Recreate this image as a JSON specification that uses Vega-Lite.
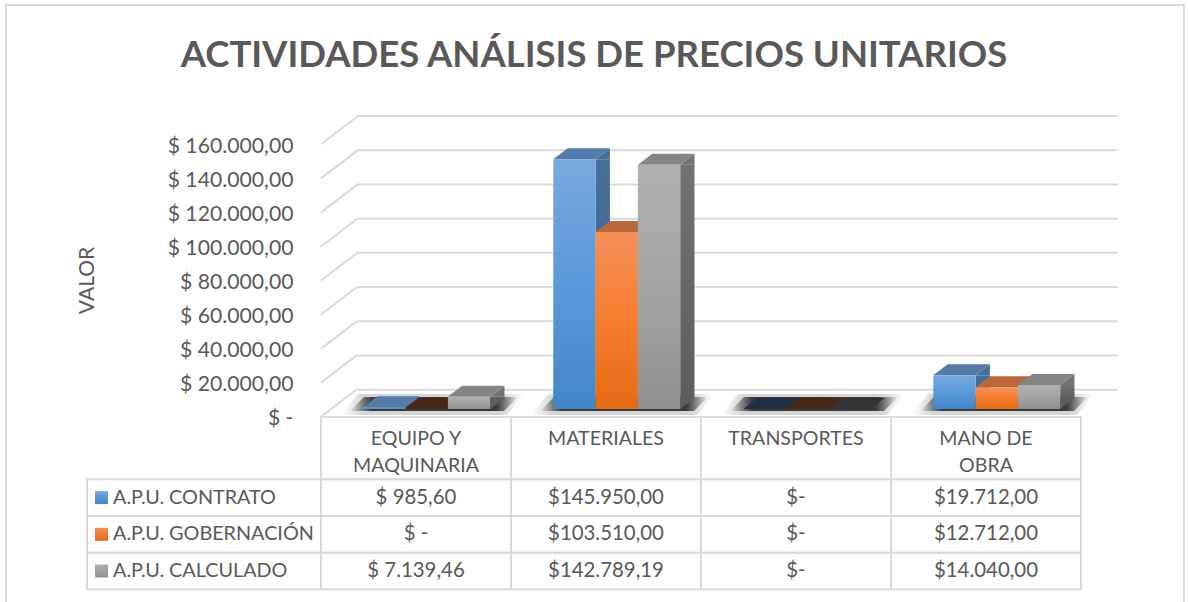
{
"$schema":"https://vega.github.io/schema/vega-lite/v6.json",
"width":1188,"height":602,"padding":0,"autosize":{"type":"none"},"background":"white",
"title":{"text":"ACTIVIDADES ANÁLISIS DE PRECIOS UNITARIOS","font":"Lato","fontSize":36.5,"fontWeight":"bold","color":"#595959","anchor":"middle","offset":-103,"baseline":"alphabetic"},
"config":{"view":{"stroke":null},"font":"Lato"},
"datasets":{
"bars":[
{"category":"EQUIPO Y MAQUINARIA","series":"A.P.U. CONTRATO","value":985.6,"label":"$ 985,60"},
{"category":"EQUIPO Y MAQUINARIA","series":"A.P.U. GOBERNACIÓN","value":0,"label":"$ -"},
{"category":"EQUIPO Y MAQUINARIA","series":"A.P.U. CALCULADO","value":7139.46,"label":"$ 7.139,46"},
{"category":"MATERIALES","series":"A.P.U. CONTRATO","value":145950,"label":"$145.950,00"},
{"category":"MATERIALES","series":"A.P.U. GOBERNACIÓN","value":103510,"label":"$103.510,00"},
{"category":"MATERIALES","series":"A.P.U. CALCULADO","value":142789.19,"label":"$142.789,19"},
{"category":"TRANSPORTES","series":"A.P.U. CONTRATO","value":0,"label":"$-"},
{"category":"TRANSPORTES","series":"A.P.U. GOBERNACIÓN","value":0,"label":"$-"},
{"category":"TRANSPORTES","series":"A.P.U. CALCULADO","value":0,"label":"$-"},
{"category":"MANO DE OBRA","series":"A.P.U. CONTRATO","value":19712,"label":"$19.712,00"},
{"category":"MANO DE OBRA","series":"A.P.U. GOBERNACIÓN","value":12712,"label":"$12.712,00"},
{"category":"MANO DE OBRA","series":"A.P.U. CALCULADO","value":14040,"label":"$14.040,00"}
],
"categories":[
{"category":"EQUIPO Y MAQUINARIA","header":"EQUIPO Y\nMAQUINARIA"},
{"category":"MATERIALES","header":"MATERIALES"},
{"category":"TRANSPORTES","header":"TRANSPORTES"},
{"category":"MANO DE OBRA","header":"MANO DE\nOBRA"}
],
"series":[{"series":"A.P.U. CONTRATO"},{"series":"A.P.U. GOBERNACIÓN"},{"series":"A.P.U. CALCULADO"}],
"ticks":[{"t":0},{"t":20000},{"t":40000},{"t":60000},{"t":80000},{"t":100000},{"t":120000},{"t":140000},{"t":160000}],
"one":[{"n":1}]
},
"resolve":{"scale":{"x":"independent","y":"independent","xOffset":"independent","fill":"independent"},"axis":{"x":"independent","y":"independent"}},
"layer":[
{"data":{"name":"one"},"mark":{"type":"rect","fill":"transparent","stroke":"#d9d9d9","strokeWidth":2},
 "encoding":{"x":{"datum":0,"type":"quantitative","scale":{"domain":[0,1],"range":[6,1184]},"axis":null},"x2":{"datum":1},
 "y":{"datum":0,"type":"quantitative","scale":{"domain":[0,1],"range":[5,640]},"axis":null},"y2":{"datum":1}}},
{"data":{"name":"ticks"},"mark":{"type":"rule","stroke":"#d9d9d9","strokeWidth":2},
 "encoding":{"x":{"datum":0,"type":"quantitative","scale":{"domain":[0,1],"range":[357,1118]},"axis":null},"x2":{"datum":1},
 "y":{"field":"t","type":"quantitative","scale":{"domain":[0,160000],"range":[389.7,116]},"axis":null}}},
{"data":{"name":"ticks"},"mark":{"type":"point","shape":"M0,0 L36,-27.5","size":4,"filled":false,"stroke":"#d9d9d9","strokeWidth":2,"opacity":1},
 "encoding":{"x":{"datum":0,"type":"quantitative","scale":{"domain":[0,1],"range":[321,1081]},"axis":null},
 "y":{"field":"t","type":"quantitative","scale":{"domain":[0,160000],"range":[416.7,144.3],"nice":false},
 "axis":{"orient":"left","offset":-293,"ticks":false,"domain":false,"grid":false,"labelPadding":0,"labelOffset":2,"values":[0,20000,40000,60000,80000,100000,120000,140000,160000],
  "labelExpr":"datum.value==0?'$ -':'$ '+replace(replace(replace(format(datum.value,',.2f'),',','#'),'.',','),'#','.')",
  "labelFont":"Lato","labelFontSize":21.2,"labelColor":"#595959","labelBaseline":"middle",
  "title":"VALOR","titleFont":"Lato","titleFontSize":21,"titleFontWeight":"normal","titleColor":"#595959","titleAngle":-90,"titleX":-196,"titleY":280}}}},
{"data":{"name":"categories"},"mark":{"type":"point","shape":"M-58,-15 L108,-15 L91,6 L-75,6 Z","size":4,"filled":true,"strokeWidth":0,"opacity":1},
 "encoding":{"x":{"field":"category","type":"nominal","scale":{"type":"band","domain":["EQUIPO Y MAQUINARIA","MATERIALES","TRANSPORTES","MANO DE OBRA"],"range":[321,1081],"padding":0},"axis":null},
 "y":{"datum":0,"type":"quantitative","scale":{"domain":[0,160000],"range":[409,135.3]},"axis":null},
 "fill":{"value":{"gradient":"linear","x1":0,"y1":0,"x2":1,"y2":0,"stops":[{"offset":0,"color":"rgba(90,90,90,0)"},{"offset":0.12,"color":"rgba(90,90,90,0.25)"},{"offset":0.88,"color":"rgba(90,90,90,0.25)"},{"offset":1,"color":"rgba(90,90,90,0)"}]}}}},
{"data":{"name":"categories"},"mark":{"type":"point","shape":"M-52,-12 L102,-12 L88,2 L-66,2 Z","size":4,"filled":true,"strokeWidth":0,"opacity":1},
 "encoding":{"x":{"field":"category","type":"nominal","scale":{"type":"band","domain":["EQUIPO Y MAQUINARIA","MATERIALES","TRANSPORTES","MANO DE OBRA"],"range":[321,1081],"padding":0},"axis":null},
 "y":{"datum":0,"type":"quantitative","scale":{"domain":[0,160000],"range":[409,135.3]},"axis":null},
 "fill":{"value":{"gradient":"linear","x1":0,"y1":0,"x2":1,"y2":0,"stops":[{"offset":0,"color":"rgba(50,50,50,0)"},{"offset":0.13,"color":"rgba(50,50,50,0.95)"},{"offset":0.87,"color":"rgba(50,50,50,0.95)"},{"offset":1,"color":"rgba(50,50,50,0)"}]}}}},
{"data":{"name":"bars"},"transform":[{"filter":"datum.value>6429"}],"mark":{"type":"bar"},
 "encoding":{"x":{"field":"category","type":"nominal","scale":{"type":"band","domain":["EQUIPO Y MAQUINARIA","MATERIALES","TRANSPORTES","MANO DE OBRA"],"range":[321,1081],"padding":0},"axis":null},
 "xOffset":{"field":"series","type":"nominal","scale":{"type":"band","domain":["A.P.U. CONTRATO","A.P.U. GOBERNACIÓN","A.P.U. CALCULADO"],"range":[84.6,183.5],"paddingInner":0.662,"paddingOuter":0}},
 "y":{"field":"value","type":"quantitative","scale":{"domain":[0,160000],"range":[409,135.3]},"axis":null},"y2":{"datum":6429},
 "fill":{"condition":[{"test":"datum.series=='A.P.U. CONTRATO'","value":{"gradient":"linear","x1":0,"y1":0,"x2":0,"y2":1,"stops":[{"offset":0,"color":"#476f9c"},{"offset":1,"color":"#3a6390"}]}},{"test":"datum.series=='A.P.U. GOBERNACIÓN'","value":"#a9572a"}],"value":{"gradient":"linear","x1":0,"y1":0,"x2":0,"y2":1,"stops":[{"offset":0,"color":"#727272"},{"offset":1,"color":"#5d5d5d"}]}}}},
{"data":{"name":"bars"},"transform":[{"filter":"datum.value>6429"}],"mark":{"type":"point","shape":"M21.15,0 L35.45,-11 L35.45,0 Z","size":4,"filled":true,"strokeWidth":0,"opacity":1},
 "encoding":{"x":{"field":"category","type":"nominal","scale":{"type":"band","domain":["EQUIPO Y MAQUINARIA","MATERIALES","TRANSPORTES","MANO DE OBRA"],"range":[321,1081],"padding":0},"axis":null},
 "xOffset":{"field":"series","type":"nominal","scale":{"type":"band","domain":["A.P.U. CONTRATO","A.P.U. GOBERNACIÓN","A.P.U. CALCULADO"],"range":[42.3,169.2],"padding":0}},
 "y":{"field":"value","type":"quantitative","scale":{"domain":[0,160000],"range":[409,135.3]},"axis":null},
 "fill":{"condition":[{"test":"datum.series=='A.P.U. CONTRATO'","value":"#476f9c"},{"test":"datum.series=='A.P.U. GOBERNACIÓN'","value":"#a9572a"}],"value":"#727272"}}},
{"data":{"name":"bars"},"transform":[{"filter":"datum.value>6429"}],"mark":{"type":"point","shape":"M21.15,-11 L35.45,-11 L21.15,0 Z","size":4,"filled":true,"strokeWidth":0,"opacity":1},
 "encoding":{"x":{"field":"category","type":"nominal","scale":{"type":"band","domain":["EQUIPO Y MAQUINARIA","MATERIALES","TRANSPORTES","MANO DE OBRA"],"range":[321,1081],"padding":0},"axis":null},
 "xOffset":{"field":"series","type":"nominal","scale":{"type":"band","domain":["A.P.U. CONTRATO","A.P.U. GOBERNACIÓN","A.P.U. CALCULADO"],"range":[42.3,169.2],"padding":0}},
 "y":{"datum":0,"type":"quantitative","scale":{"domain":[0,160000],"range":[409,135.3]},"axis":null},
 "fill":{"condition":[{"test":"datum.series=='A.P.U. CONTRATO'","value":"#3a6390"},{"test":"datum.series=='A.P.U. GOBERNACIÓN'","value":"#a9572a"}],"value":"#5d5d5d"}}},
{"data":{"name":"bars"},"mark":{"type":"point","shape":"M-21.15,0 L21.15,0 L35.45,-11 L-6.85,-11 Z","size":4,"filled":true,"strokeWidth":0,"opacity":1},
 "encoding":{"x":{"field":"category","type":"nominal","scale":{"type":"band","domain":["EQUIPO Y MAQUINARIA","MATERIALES","TRANSPORTES","MANO DE OBRA"],"range":[321,1081],"padding":0},"axis":null},
 "xOffset":{"field":"series","type":"nominal","scale":{"type":"band","domain":["A.P.U. CONTRATO","A.P.U. GOBERNACIÓN","A.P.U. CALCULADO"],"range":[42.3,169.2],"padding":0}},
 "y":{"field":"value","type":"quantitative","scale":{"domain":[0,160000],"range":[409,135.3]},"axis":null},
 "fill":{"condition":[{"test":"datum.value==0&&datum.series=='A.P.U. CONTRATO'","value":"#1f2e40"},{"test":"datum.value==0&&datum.series=='A.P.U. GOBERNACIÓN'","value":"#4a2715"},{"test":"datum.value==0","value":"#333333"},{"test":"datum.series=='A.P.U. CONTRATO'","value":"#557ca8"},{"test":"datum.series=='A.P.U. GOBERNACIÓN'","value":"#b8683c"}],"value":"#858585"}}},
{"data":{"name":"bars"},"transform":[{"filter":"datum.value>0"}],"mark":{"type":"bar"},
 "encoding":{"x":{"field":"category","type":"nominal","scale":{"type":"band","domain":["EQUIPO Y MAQUINARIA","MATERIALES","TRANSPORTES","MANO DE OBRA"],"range":[321,1081],"padding":0},"axis":null},
 "xOffset":{"field":"series","type":"nominal","scale":{"type":"band","domain":["A.P.U. CONTRATO","A.P.U. GOBERNACIÓN","A.P.U. CALCULADO"],"range":[42.3,169.2],"padding":0}},
 "y":{"field":"value","type":"quantitative","scale":{"domain":[0,160000],"range":[409,135.3]},"axis":null},
 "fill":{"condition":[{"test":"datum.series=='A.P.U. CONTRATO'","value":{"gradient":"linear","x1":0,"y1":0,"x2":0,"y2":1,"stops":[{"offset":0,"color":"#78a9df"},{"offset":0.5,"color":"#5a9ad9"},{"offset":1,"color":"#4285c9"}]}},{"test":"datum.series=='A.P.U. GOBERNACIÓN'","value":{"gradient":"linear","x1":0,"y1":0,"x2":0,"y2":1,"stops":[{"offset":0,"color":"#f4905a"},{"offset":0.5,"color":"#f77d2d"},{"offset":1,"color":"#e46a14"}]}}],"value":{"gradient":"linear","x1":0,"y1":0,"x2":0,"y2":1,"stops":[{"offset":0,"color":"#b0b0b0"},{"offset":0.5,"color":"#a4a4a4"},{"offset":1,"color":"#909090"}]}}}},
{"data":{"name":"categories"},"mark":{"type":"rect","fill":"transparent","stroke":"#d9d9d9","strokeWidth":2},
 "encoding":{"x":{"field":"category","type":"nominal","scale":{"type":"band","domain":["EQUIPO Y MAQUINARIA","MATERIALES","TRANSPORTES","MANO DE OBRA"],"range":[321,1081],"padding":0},"axis":null},
 "y":{"datum":0,"type":"quantitative","scale":{"domain":[0,1],"range":[417,479.3]},"axis":null},"y2":{"datum":1}}},
{"data":{"name":"series"},"mark":{"type":"rect","fill":"transparent","stroke":"#d9d9d9","strokeWidth":2},
 "encoding":{"x":{"datum":0,"type":"quantitative","scale":{"domain":[0,1],"range":[87,321]},"axis":null},"x2":{"datum":1},
 "y":{"field":"series","type":"nominal","scale":{"type":"band","domain":["A.P.U. CONTRATO","A.P.U. GOBERNACIÓN","A.P.U. CALCULADO"],"range":[479.3,589.3],"padding":0},"axis":null}}},
{"data":{"name":"bars"},"mark":{"type":"rect","fill":"transparent","stroke":"#d9d9d9","strokeWidth":2},
 "encoding":{"x":{"field":"category","type":"nominal","scale":{"type":"band","domain":["EQUIPO Y MAQUINARIA","MATERIALES","TRANSPORTES","MANO DE OBRA"],"range":[321,1081],"padding":0},"axis":null},
 "y":{"field":"series","type":"nominal","scale":{"type":"band","domain":["A.P.U. CONTRATO","A.P.U. GOBERNACIÓN","A.P.U. CALCULADO"],"range":[479.3,589.3],"padding":0},"axis":null}}},
{"data":{"name":"categories"},"mark":{"type":"text","font":"Lato","fontSize":19.6,"fill":"#595959","align":"center","baseline":"top","lineBreak":"\n","lineHeight":27},
 "encoding":{"x":{"field":"category","type":"nominal","scale":{"type":"band","domain":["EQUIPO Y MAQUINARIA","MATERIALES","TRANSPORTES","MANO DE OBRA"],"range":[321,1081],"padding":0},"axis":null},
 "y":{"datum":0,"type":"quantitative","scale":{"domain":[0,1],"range":[430,479]},"axis":null},
 "text":{"field":"header"}}},
{"data":{"name":"bars"},"mark":{"type":"text","font":"Lato","fontSize":20.4,"fill":"#595959","align":"center","baseline":"middle"},
 "encoding":{"x":{"field":"category","type":"nominal","scale":{"type":"band","domain":["EQUIPO Y MAQUINARIA","MATERIALES","TRANSPORTES","MANO DE OBRA"],"range":[321,1081],"padding":0},"axis":null},
 "y":{"field":"series","type":"nominal","scale":{"type":"band","domain":["A.P.U. CONTRATO","A.P.U. GOBERNACIÓN","A.P.U. CALCULADO"],"range":[479.3,589.3],"padding":0},"axis":null},
 "text":{"field":"label"}}},
{"data":{"name":"series"},"mark":{"type":"text","font":"Lato","fontSize":19.8,"fill":"#595959","align":"left","baseline":"middle"},
 "encoding":{"x":{"datum":0,"type":"quantitative","scale":{"domain":[0,1],"range":[113,321]},"axis":null},
 "y":{"field":"series","type":"nominal","scale":{"type":"band","domain":["A.P.U. CONTRATO","A.P.U. GOBERNACIÓN","A.P.U. CALCULADO"],"range":[479.3,589.3],"padding":0},"axis":null},
 "text":{"field":"series"}}},
{"data":{"name":"series"},"mark":{"type":"point","shape":"square","size":169,"filled":true,"strokeWidth":0,"opacity":1},
 "encoding":{"x":{"datum":0,"type":"quantitative","scale":{"domain":[0,1],"range":[101.5,321]},"axis":null},
 "y":{"field":"series","type":"nominal","scale":{"type":"band","domain":["A.P.U. CONTRATO","A.P.U. GOBERNACIÓN","A.P.U. CALCULADO"],"range":[479.3,589.3],"padding":0},"axis":null},
 "fill":{"condition":[{"test":"datum.series=='A.P.U. CONTRATO'","value":{"gradient":"linear","x1":0,"y1":0,"x2":0,"y2":1,"stops":[{"offset":0,"color":"#78a9df"},{"offset":1,"color":"#4285c9"}]}},{"test":"datum.series=='A.P.U. GOBERNACIÓN'","value":{"gradient":"linear","x1":0,"y1":0,"x2":0,"y2":1,"stops":[{"offset":0,"color":"#f4905a"},{"offset":1,"color":"#e46a14"}]}}],"value":{"gradient":"linear","x1":0,"y1":0,"x2":0,"y2":1,"stops":[{"offset":0,"color":"#b0b0b0"},{"offset":1,"color":"#909090"}]}}}}
]
}
